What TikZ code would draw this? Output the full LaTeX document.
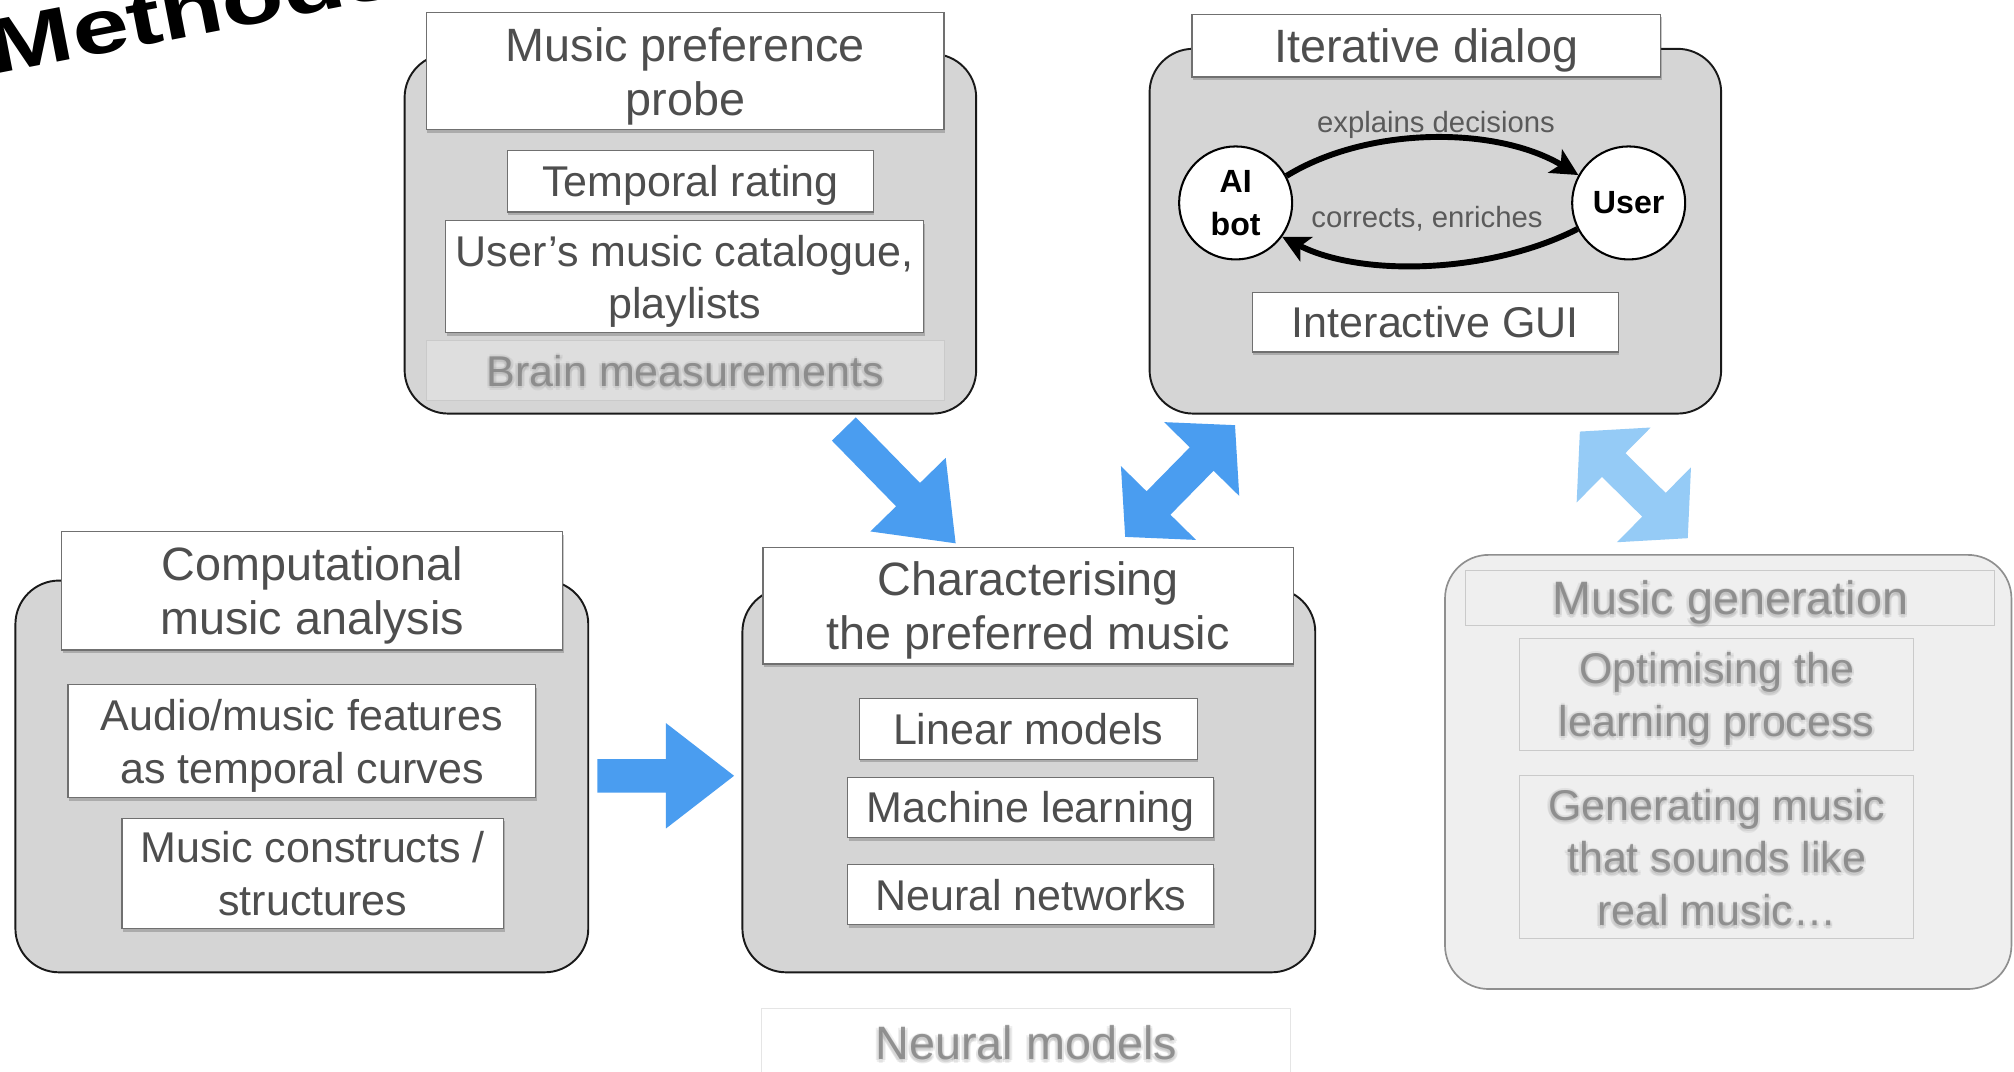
\documentclass[tikz,border=0pt]{standalone}
\usepackage{fontspec}
\setmainfont{Liberation Sans}
\newfontfamily\titlefont[FakeStretch=1.32]{Liberation Sans}
\usetikzlibrary{calc,shadows,arrows.meta}

\definecolor{panelgray}{HTML}{D5D5D5}
\definecolor{txtgray}{HTML}{4E4E4E}
\definecolor{edgegray}{HTML}{707070}
\definecolor{labelgray}{HTML}{5A5A5A}
\definecolor{arrowblue}{HTML}{4A9DF0}
\definecolor{paleblue}{HTML}{95CBF6}
\definecolor{fadefill}{HTML}{EFEFEF}
\definecolor{fadeedge}{HTML}{8F8F8F}
\definecolor{ghostedge}{HTML}{CACACA}
\definecolor{fadetext}{HTML}{858585}

\newcommand\headsize{\fontsize{36.4}{42}\selectfont}
\newcommand\itemsize{\fontsize{33.5}{41}\selectfont}
\newcommand\labelsize{\fontsize{22.8}{26}\selectfont}
\newcommand\circsize{\fontsize{25}{33}\selectfont\bfseries}

% block arrow: #1 style, #2 tail, #3 tip, #4 half shaft, #5 half head, #6 head length
\newcommand\blockarrow[6]{%
  \coordinate (#2-h) at ($(#3)!#6!(#2)$);
  \fill[#1] ($(#2)!#4!90:(#3)$) -- ($(#2-h)!#4!90:(#3)$) -- ($(#2-h)!#5!90:(#3)$)
    -- (#3) -- ($(#2-h)!#5!-90:(#3)$) -- ($(#2-h)!#4!-90:(#3)$)
    -- ($(#2)!#4!-90:(#3)$) -- cycle;}
% two-headed block arrow, same arguments
\newcommand\twowayarrow[6]{%
  \coordinate (#2-h) at ($(#2)!#6!(#3)$);
  \coordinate (#3-h) at ($(#3)!#6!(#2)$);
  \fill[#1] (#2) -- ($(#2-h)!#5!90:(#3)$) -- ($(#2-h)!#4!90:(#3)$)
    -- ($(#3-h)!#4!90:(#3)$) -- ($(#3-h)!#5!90:(#3)$) -- (#3)
    -- ($(#3-h)!#5!-90:(#3)$) -- ($(#3-h)!#4!-90:(#3)$)
    -- ($(#2-h)!#4!-90:(#3)$) -- ($(#2-h)!#5!-90:(#3)$) -- cycle;}
% soft, blurred label: #1 name, #2 font, #3 position, #4 text
\newcommand\hazylabel[4]{%
  \foreach \hx/\hy [count=\hi] in {0/3, 1.6/2, -1.6/2, 2/0.4, -2/0.4, 0/-1.2}
    {\node[hazy, font=#2, text opacity=0.13] (#1-\hi) at ($(#3)+(\hx,\hy)$) {#4};}
  \node[hazy, font=#2, text opacity=0.85] (#1) at (#3) {#4};}

\begin{document}
\begin{tikzpicture}[x=1pt, y=-1pt,
  dims/.style 2 args={minimum width=#1, minimum height=#2},
  panel/.style={draw=black!90, line width=1.5pt, fill=panelgray,
    rounded corners=34pt, inner sep=0pt, outer sep=0pt},
  fadepanel/.style={panel, draw=fadeedge, line width=1.3pt, fill=fadefill},
  headbox/.style={draw=edgegray, line width=0.9pt, fill=white, text=txtgray,
    align=center, inner sep=0pt, text depth=0pt, font=\headsize,
    drop shadow={shadow xshift=0.8pt, shadow yshift=-2.5pt, opacity=0.3, fill=black!70}},
  itembox/.style={headbox, font=\itemsize},
  ghostbox/.style={draw=ghostedge, line width=0.7pt, inner sep=0pt},
  hazy/.style={align=center, text=fadetext, inner sep=0pt, text depth=0pt},
  person/.style={circle, draw=black, line width=1.6pt, fill=white,
    minimum size=88pt, inner sep=0pt, align=center, font=\circsize},
  dlgarrow/.style={line width=4.6pt, -{Stealth[length=21pt, width=21pt, inset=5pt]}},
  dlglabel/.style={text=labelgray, font=\labelsize, inner sep=0pt},
  bluearrow/.style={fill=arrowblue},
  palearrow/.style={fill=paleblue}]

\useasboundingbox (0,0) rectangle (1568,834);
\clip (0,0) rectangle (1568,834);
\fill[white] (0,0) rectangle (1568,834);

% title
\node[rotate=11, anchor=base west, inner sep=0pt,
  font={\titlefont\fontsize{60}{64}\selectfont\bfseries}] (title) at (-5,58) {Methods};

% music preference probe
\node[panel, dims={445pt}{280pt}] (probe) at (537.5,182) {};
\node[headbox, dims={403pt}{91pt}] (probehead) at (533.5,55.5) {Music preference\\probe};
\node[itembox, dims={285pt}{48pt}] (rating) at (537.5,141) {Temporal rating};
\node[itembox, dims={372pt}{87pt}] (catalogue) at (533,215.5) {User’s music catalogue,\\playlists};
\node[ghostbox, fill=black!13, dims={403pt}{47pt}] (brain) at (533.5,288.5) {};
\hazylabel{braintext}{\itemsize}{brain}{Brain measurements}

% iterative dialog
\node[panel, dims={445pt}{284pt}] (dialog) at (1117.5,180) {};
\node[headbox, dims={365pt}{49pt}] (dialoghead) at (1110.5,35.5) {Iterative dialog};
\node[person] (ai) at (962,158) {AI\\bot};
\node[person] (user) at (1268,158) {User};
\draw[dlgarrow] (ai.28) .. controls (1065,98) and (1165,98) .. (user.151);
\draw[dlgarrow] (user.207) .. controls (1160,213) and (1060,216) .. (ai.-36);
\node[dlglabel] (explains) at (1118,97) {explains decisions};
\node[dlglabel] (corrects) at (1111,170) {corrects, enriches};
\node[itembox, dims={285pt}{46pt}] (gui) at (1117.5,251) {Interactive GUI};

% computational music analysis
\node[panel, dims={446pt}{305pt}] (analysis) at (235,604.5) {};
\node[headbox, dims={390pt}{92pt}] (analysishead) at (243,460) {Computational\\music analysis};
\node[itembox, dims={364pt}{88pt}] (features) at (235,577) {Audio/music features\\as temporal curves};
\node[itembox, dims={297pt}{86pt}] (constructs) at (243.5,680) {Music constructs /\\structures};

% characterising the preferred music
\node[panel, dims={446pt}{299pt}] (model) at (801,607.5) {};
\node[headbox, dims={413pt}{91pt}] (modelhead) at (800.5,471.5) {Characterising\\the preferred music};
\node[itembox, dims={263pt}{47pt}] (linear) at (800.5,567.5) {Linear models};
\node[itembox, dims={285pt}{47pt}] (ml) at (802.5,628.5) {Machine learning};
\node[itembox, dims={285pt}{47pt}] (nn) at (802.5,696.5) {Neural networks};
\node[ghostbox, draw=black!10, fill=white, dims={412pt}{62pt}] (neural) at (799,816) {};
\coordinate (neuraltextpos) at (799,812);
\hazylabel{neuraltext}{\headsize}{neuraltextpos}{Neural models}

% music generation
\node[fadepanel, dims={441pt}{338pt}] (generation) at (1345.5,601) {};
\node[ghostbox, dims={412pt}{43pt}] (genhead) at (1347,465.5) {};
\hazylabel{genheadtext}{\headsize}{genhead}{Music generation}
\node[ghostbox, dims={307pt}{87pt}] (optimise) at (1336.5,540.5) {};
\hazylabel{optimisetext}{\itemsize}{optimise}{Optimising the\\learning process}
\node[ghostbox, dims={307pt}{127pt}] (generate) at (1336.5,667.5) {};
\hazylabel{generatetext}{\itemsize}{generate}{Generating music\\that sounds like\\real music…}

% flow arrows between the panels
\coordinate (probeout) at (657,334);
\coordinate (modelin) at (744,423);
\blockarrow{bluearrow}{probeout}{modelin}{13pt}{41pt}{53pt}
\coordinate (analysisout) at (465,604);
\coordinate (modelleft) at (571.5,604);
\blockarrow{bluearrow}{analysisout}{modelleft}{13pt}{41pt}{53pt}
\coordinate (modelout) at (876,418);
\coordinate (dialogin) at (961.5,331);
\twowayarrow{bluearrow}{modelout}{dialogin}{13pt}{41pt}{37pt}
\coordinate (dialogout) at (1230,336);
\coordinate (genin) at (1314,419);
\twowayarrow{palearrow}{dialogout}{genin}{13pt}{41pt}{37pt}
\end{tikzpicture}
\end{document}
